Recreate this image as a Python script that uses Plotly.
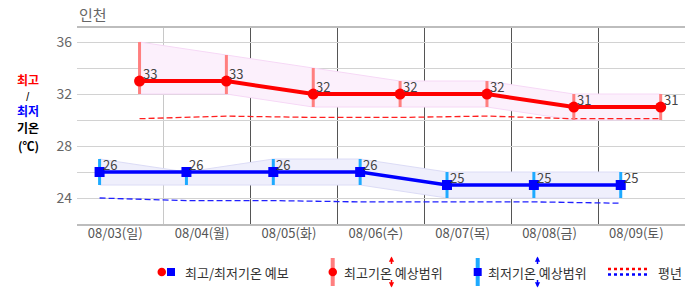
import plotly.graph_objects as go

# ---------------- data ----------------
days = ["08/03(일)", "08/04(월)", "08/05(화)", "08/06(수)", "08/07(목)", "08/08(금)", "08/09(토)"]
high = [33, 33, 32, 32, 32, 31, 31]
high_range_top = [36, 35, 34, 33, 33, 32, 32]
high_range_bottom = [32, 32, 31, 31, 31, 30, 30]
low = [26, 26, 26, 26, 25, 25, 25]
low_range_top = [27, 26, 27, 27, 26, 26, 26]
low_range_bottom = [25, 25, 25, 25, 24, 24, 24]
normal_high = [30.1, 30.3, 30.2, 30.2, 30.3, 30.1, 30.1]
normal_low = [24.0, 23.8, 23.8, 23.7, 23.7, 23.7, 23.6]
y_ticks = [24, 26, 28, 30, 32, 34, 36]
y_ticklabels = ["24", "", "28", "", "32", "", "36"]

# ---------------- layout helpers ----------------
W, H = 686, 295
ML, MR, MT, MB = 77, 1, 28, 71
PW, PH = W - ML - MR, H - MT - MB
FONT = "Noto Sans CJK KR"

HIGH_OFF = 0.72   # time-of-day position of daily max
LOW_OFF = 0.26    # time-of-day position of daily min
LABEL_OFF = 0.44  # date label position

n = len(days)
hx = [i + HIGH_OFF for i in range(n)]
lx = [i + LOW_OFF for i in range(n)]


def px(x):
    return (x - ML) / PW


def py(y):
    return (MT + PH - y) / PH


fig = go.Figure()

# bands
fig.add_trace(go.Scatter(x=hx, y=high_range_bottom, mode="lines",
                         line=dict(color="#f6d8f6", width=1), hoverinfo="skip", showlegend=False))
fig.add_trace(go.Scatter(x=hx, y=high_range_top, mode="lines", fill="tonexty",
                         fillcolor="#fcf0fc", line=dict(color="#f6d8f6", width=1),
                         hoverinfo="skip", showlegend=False))
fig.add_trace(go.Scatter(x=lx, y=low_range_bottom, mode="lines",
                         line=dict(color="#dcdcf6", width=1), hoverinfo="skip", showlegend=False))
fig.add_trace(go.Scatter(x=lx, y=low_range_top, mode="lines", fill="tonexty",
                         fillcolor="#efeffc", line=dict(color="#dcdcf6", width=1),
                         hoverinfo="skip", showlegend=False))

# normals
fig.add_trace(go.Scatter(x=hx, y=normal_high, mode="lines",
                         line=dict(color="#ff2020", width=1.3, dash="6px,3px"),
                         showlegend=False))
fig.add_trace(go.Scatter(x=lx, y=normal_low, mode="lines", xaxis="x2",
                         line=dict(color="#2020ff", width=1.3, dash="6px,3px"),
                         showlegend=False))

# range bars
fig.add_trace(go.Scatter(
    x=hx, y=high_range_bottom, mode="markers", marker=dict(size=1, opacity=0),
    error_y=dict(type="data", symmetric=False,
                 array=[t - b for t, b in zip(high_range_top, high_range_bottom)],
                 arrayminus=[0] * n, width=0, thickness=3, color="#ff7f7f"),
    showlegend=False))
fig.add_trace(go.Scatter(
    x=lx, y=low_range_bottom, mode="markers", marker=dict(size=1, opacity=0),
    error_y=dict(type="data", symmetric=False,
                 array=[t - b for t, b in zip(low_range_top, low_range_bottom)],
                 arrayminus=[0] * n, width=0, thickness=3, color="#1eaaff"),
    showlegend=False))

# main lines
fig.add_trace(go.Scatter(x=hx, y=high, mode="lines+markers",
                         line=dict(color="#ff0000", width=4),
                         marker=dict(symbol="circle", size=11, color="#ff0000"),
                         showlegend=False))
fig.add_trace(go.Scatter(x=lx, y=low, mode="lines+markers",
                         line=dict(color="#0000ff", width=3.5),
                         marker=dict(symbol="square", size=10, color="#0000ff"),
                         showlegend=False))

annotations = []
for x, v in zip(hx, high):
    annotations.append(dict(x=x, y=v, xref="x", yref="y", text=str(v), showarrow=False,
                            xanchor="left", yanchor="middle", xshift=1, yshift=8,
                            font=dict(family=FONT, size=13, color="#444")))
for x, v in zip(lx, low):
    annotations.append(dict(x=x, y=v, xref="x", yref="y", text=str(v), showarrow=False,
                            xanchor="left", yanchor="middle", xshift=1, yshift=8,
                            font=dict(family=FONT, size=13, color="#444")))

# title
annotations.append(dict(x=0, y=1, xref="paper", yref="paper", text="인천", showarrow=False,
                        xanchor="left", yanchor="bottom", yshift=1,
                        font=dict(family=FONT, size=15, color="#666")))
# y axis title (one annotation per line)
for ycen, txt, col, size in [(79, "최고", "#ff0000", 12), (95, "/", "#000", 9),
                             (110, "최저", "#0000ff", 12), (127.5, "기온", "#000", 12),
                             (145, "(℃)", "#000", 12)]:
    annotations.append(dict(x=px(28), y=py(ycen), xref="paper", yref="paper",
                            showarrow=False, xanchor="center", yanchor="middle",
                            text=f"<b>{txt}</b>", font=dict(family=FONT, size=size, color=col)))

# legend texts
leg_font = dict(family=FONT, size=13, color="#333")
for x, t in [(183, "최고/최저기온 예보"), (342, "최고기온 예상범위"),
             (486, "최저기온 예상범위"), (656, "평년")]:
    annotations.append(dict(x=px(x), y=py(272), xref="paper", yref="paper", text=t,
                            showarrow=False, xanchor="left", yanchor="middle", font=leg_font))
# legend arrows
for x, col in [(391.5, "#ff0000"), (537.5, "#0000ff")]:
    annotations.append(dict(x=px(x), y=py(256.5), xref="paper", yref="paper", text="",
                            showarrow=True, ax=0, ay=9, arrowhead=2, arrowsize=0.7,
                            arrowwidth=1.5, arrowcolor=col))
    annotations.append(dict(x=px(x), y=py(287.5), xref="paper", yref="paper", text="",
                            showarrow=True, ax=0, ay=-9, arrowhead=2, arrowsize=0.7,
                            arrowwidth=1.5, arrowcolor=col))

shapes = []
# legend icons
shapes.append(dict(type="circle", xref="paper", yref="paper", x0=px(157.5), x1=px(166),
                   y0=py(276.3), y1=py(267.7), fillcolor="#ff0000", line=dict(width=0)))
shapes.append(dict(type="rect", xref="paper", yref="paper", x0=px(167), x1=px(175),
                   y0=py(276), y1=py(268), fillcolor="#0000ff", line=dict(width=0)))
shapes.append(dict(type="line", xref="paper", yref="paper", x0=px(332.7), x1=px(332.7),
                   y0=py(258), y1=py(286), line=dict(color="#ff7f7f", width=4)))
shapes.append(dict(type="circle", xref="paper", yref="paper", x0=px(328.5), x1=px(337),
                   y0=py(276.3), y1=py(267.7), fillcolor="#ff0000", line=dict(width=0)))
shapes.append(dict(type="line", xref="paper", yref="paper", x0=px(477.7), x1=px(477.7),
                   y0=py(258), y1=py(286), line=dict(color="#1eaaff", width=4)))
shapes.append(dict(type="rect", xref="paper", yref="paper", x0=px(473.7), x1=px(481.7),
                   y0=py(276), y1=py(268), fillcolor="#0000ff", line=dict(width=0)))
shapes.append(dict(type="line", xref="paper", yref="paper", x0=px(608), x1=px(647),
                   y0=py(269), y1=py(269), line=dict(color="#ff0000", width=2.5, dash="dot")))
shapes.append(dict(type="line", xref="paper", yref="paper", x0=px(608), x1=px(647),
                   y0=py(274.5), y1=py(274.5), line=dict(color="#0000ff", width=2.5, dash="dot")))

fig.update_layout(
    width=W, height=H,
    margin=dict(l=ML, r=MR, t=MT, b=MB),
    paper_bgcolor="white", plot_bgcolor="white",
    xaxis=dict(range=[0, n], tickmode="array", tickvals=list(range(2, n)),
               showticklabels=False, ticks="", showgrid=True, gridcolor="#555",
               gridwidth=1, zeroline=False, showline=True, mirror=True,
               linecolor="#bdbdbd", linewidth=1.5,
               minor=dict(tickmode="array", tickvals=[1], showgrid=True,
                          gridcolor="#c8c8c8", gridwidth=1, ticks="")),
    xaxis2=dict(range=[0, n], overlaying="x", matches="x", side="bottom",
                tickmode="array", tickvals=[i + LABEL_OFF for i in range(n)],
                ticktext=days, showgrid=False, zeroline=False, ticks="",
                tickfont=dict(family=FONT, size=13, color="#555")),
    yaxis=dict(range=[22, 37.08], tickmode="array", tickvals=y_ticks,
               ticktext=y_ticklabels, showgrid=True, gridcolor="#d2d2d2",
               zeroline=False, ticks="", ticklabelstandoff=4,
               tickfont=dict(family=FONT, size=14, color="#666")),
    font=dict(family=FONT),
    annotations=annotations,
    shapes=shapes,
    hovermode=False,
)

fig.write_html("out.html")
